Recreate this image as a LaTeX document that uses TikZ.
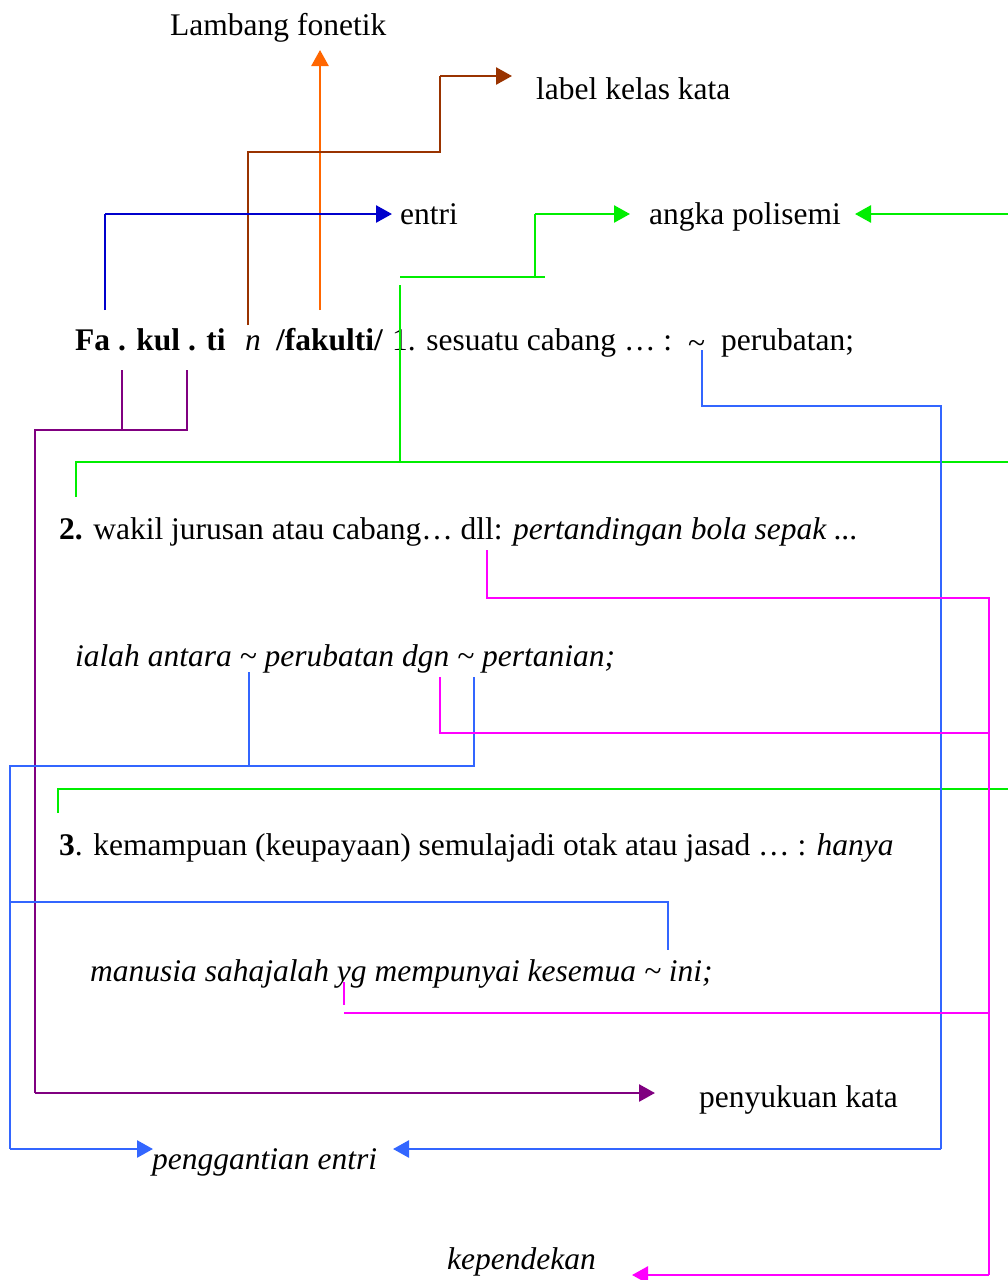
\documentclass[tikz,border=0pt]{standalone}
\usepackage{fontspec}
\setmainfont{Liberation Serif}
\usetikzlibrary{arrows.meta}

\definecolor{fonorange}{RGB}{255,102,0}
\definecolor{kelasbrown}{RGB}{153,51,0}
\definecolor{entriblue}{RGB}{0,0,204}
\definecolor{polygreen}{RGB}{0,238,0}
\definecolor{sukupurple}{RGB}{128,0,128}
\definecolor{gantiblue}{RGB}{51,102,255}
\definecolor{pendekpink}{RGB}{255,0,255}

\begin{document}
\begin{tikzpicture}[x=1pt,y=-1pt,
    every node/.style={inner sep=0pt,font=\fontsize{31.5}{36}\selectfont},
    txt/.style={anchor=base west},
    link/.style={line width=1.8pt},
    tip/.style={-{Triangle[length=16pt,width=17pt]},line width=2.6pt}]
    \useasboundingbox (0,0) rectangle (1008,1280);

    % Labels round the entry
    \node[txt] (fonetik) at (170,35) {Lambang fonetik};
    \node[txt] (kelas) at (536,99) {label kelas kata};
    \node[txt] (entri) at (400,224) {entri};
    \node[txt] (polisemi) at (649,224) {angka polisemi};
    \node[txt] (suku) at (699,1107) {penyukuan kata};
    \node[txt] (ganti) at (152,1169) {\textit{penggantian entri}};
    \node[txt] (pendek) at (447,1269) {\textit{kependekan}};

    % The entry itself
    \node[txt] (headword) at (75,350) {\textbf{Fa . kul . ti}};
    \node[txt] (wclass) at (245,350) {\textit{n}};
    \node[txt] (phon) at (276,350) {\textbf{/fakulti/}};
    \node[txt] (sense1) at (392,350) {1. sesuatu cabang … :};
    \node[txt] (tilde1) at (688,353) {\textasciitilde};
    \node[txt] (perubatan) at (721,350) {perubatan;};
    \node[txt] (sense2) at (59,539) {\textbf{2.} wakil jurusan atau cabang… dll: \textit{pertandingan bola sepak ...}};
    \node[txt] (ex2) at (75,666) {\textit{ialah antara \textasciitilde{} perubatan dgn \textasciitilde{} pertanian;}};
    \node[txt] (sense3) at (59,855) {\textbf{3}. kemampuan (keupayaan) semulajadi otak atau jasad … : \textit{hanya}};
    \node[txt] (ex3) at (90,981) {\textit{manusia sahajalah yg mempunyai kesemua \textasciitilde{} ini;}};

    % 1. Lambang fonetik
    \coordinate (fo1) at (320,310);
    \coordinate (fo2) at (320,50);
    \draw[fonorange,tip] (fo1) -- (fo2);

    % 2. Label kelas kata
    \coordinate (kl1) at (248,325);
    \coordinate (kl2) at (248,152);
    \coordinate (kl3) at (440,152);
    \coordinate (kl4) at (440,76);
    \coordinate (kl5) at (512,76);
    \draw[kelasbrown,link] (kl1) -- (kl2) -- (kl3) -- (kl4);
    \draw[kelasbrown,tip] (kl4) -- (kl5);

    % 3. Entri
    \coordinate (en1) at (105,310);
    \coordinate (en2) at (105,214);
    \draw[entriblue,link] (en1) -- (en2);
    \draw[entriblue,tip] (en2) -- (392,214);

    % 4. Angka polisemi
    \coordinate (po1) at (400,285);
    \coordinate (po2) at (400,462);
    \coordinate (po3) at (535,277);
    \coordinate (po4) at (535,214);
    \coordinate (po5) at (76,462);
    \coordinate (po6) at (76,497);
    \coordinate (po7) at (58,789);
    \coordinate (po8) at (58,813);
    \coordinate (rim) at (1008,0);
    \draw[polygreen,link] (po1) -- (po2);
    \draw[polygreen,link] (400,277) -- (545,277);
    \draw[polygreen,link] (po3) -- (po4);
    \draw[polygreen,tip] (po4) -- (630,214);
    \draw[polygreen,link] (po6) -- (po5) -- (po5 -| rim);
    \draw[polygreen,link] (po8) -- (po7) -- (po7 -| rim);
    \draw[polygreen,tip] (rim |- po4) -- (855,214);

    % 5. Penyukuan kata
    \coordinate (pu1) at (122,370);
    \coordinate (pu2) at (122,430);
    \coordinate (pu3) at (187,370);
    \coordinate (pu4) at (187,430);
    \coordinate (pu5) at (35,430);
    \coordinate (pu6) at (35,1093);
    \draw[sukupurple,link] (pu1) -- (pu2);
    \draw[sukupurple,link] (pu3) -- (pu4) -- (pu5) -- (pu6);
    \draw[sukupurple,tip] (pu6) -- (655,1093);

    % 6. Penggantian entri
    \coordinate (pg1) at (702,350);
    \coordinate (pg2) at (702,406);
    \coordinate (pg3) at (941,406);
    \coordinate (pg4) at (941,1149);
    \draw[gantiblue,link] (pg1) -- (pg2) -- (pg3) -- (pg4);
    \draw[gantiblue,tip] (pg4) -- (393,1149);
    \coordinate (pg5) at (249,672);
    \coordinate (pg6) at (249,766);
    \coordinate (pg7) at (474,677);
    \coordinate (pg8) at (474,766);
    \coordinate (pg9) at (10,766);
    \coordinate (pg10) at (10,1149);
    \coordinate (pg11) at (10,902);
    \coordinate (pg12) at (668,902);
    \coordinate (pg13) at (668,950);
    \draw[gantiblue,link] (pg5) -- (pg6);
    \draw[gantiblue,link] (pg7) -- (pg8) -- (pg9) -- (pg10);
    \draw[gantiblue,tip] (pg10) -- (153,1149);
    \draw[gantiblue,link] (pg11) -- (pg12) -- (pg13);

    % 7. Kependekan
    \coordinate (kp1) at (487,550);
    \coordinate (kp2) at (487,598);
    \coordinate (kp3) at (989,598);
    \coordinate (kp4) at (989,1275);
    \draw[pendekpink,link] (kp1) -- (kp2) -- (kp3) -- (kp4);
    \draw[pendekpink,tip] (kp4) -- (632,1275);
    \coordinate (kp5) at (440,677);
    \coordinate (kp6) at (440,733);
    \draw[pendekpink,link] (kp5) -- (kp6) -- (kp6 -| kp3);
    \coordinate (kp7) at (344,982);
    \coordinate (kp8) at (344,1005);
    \coordinate (kp9) at (344,1013);
    \draw[pendekpink,link] (kp7) -- (kp8);
    \draw[pendekpink,link] (kp9) -- (kp9 -| kp3);

\end{tikzpicture}
\end{document}
